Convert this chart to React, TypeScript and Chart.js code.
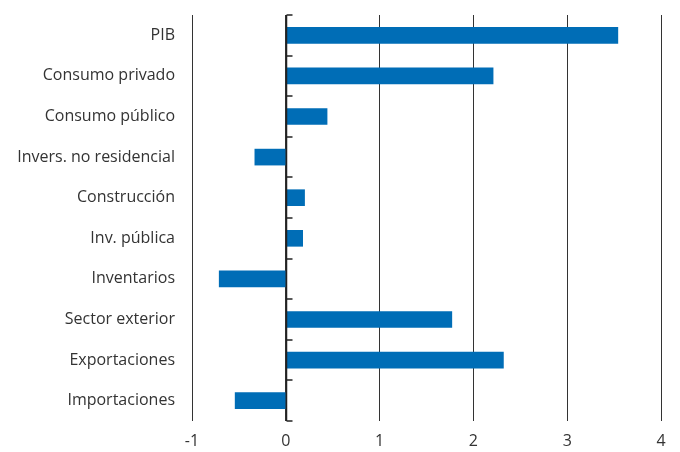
import React, { useEffect, useRef } from "react";
import { Chart, registerables } from "chart.js";

Chart.register(...registerables);

const categories = [
  "PIB",
  "Consumo privado",
  "Consumo público",
  "Invers. no residencial",
  "Construcción",
  "Inv. pública",
  "Inventarios",
  "Sector exterior",
  "Exportaciones",
  "Importaciones",
];
const values = [3.54, 2.21, 0.44, -0.33, 0.2, 0.18, -0.71, 1.77, 2.32, -0.54];
const xMin = -1;
const xMax = 4;

const zeroTicks = {
  id: "zeroTicks",
  afterDatasetsDraw(chart: any) {
    const { ctx, chartArea, scales } = chart;
    const x0 = Math.round(scales.x.getPixelForValue(0)) + 0.5;
    const n = categories.length;
    ctx.save();
    ctx.strokeStyle = "#222";
    ctx.lineWidth = 1.5;
    ctx.beginPath();
    ctx.moveTo(x0, chartArea.top);
    ctx.lineTo(x0, chartArea.bottom);
    ctx.stroke();
    for (let i = 0; i <= n; i++) {
      const y = Math.round(chartArea.top + (i * (chartArea.bottom - chartArea.top)) / n);
      ctx.beginPath();
      ctx.moveTo(x0, y);
      ctx.lineTo(x0 + 6, y);
      ctx.stroke();
    }
    ctx.restore();
  },
};

export default function App() {
  const ref = useRef<HTMLCanvasElement>(null);
  useEffect(() => {
    document.body.style.margin = "0";
    const chart = new Chart(ref.current!, {
      type: "bar",
      data: {
        labels: categories,
        datasets: [
          {
            data: values,
            backgroundColor: "#006db6",
            barThickness: 16,
          },
        ],
      },
      options: {
        indexAxis: "y",
        animation: false,
        responsive: false,
        maintainAspectRatio: false,
        layout: { padding: { top: 15, right: 19, left: 0, bottom: 0 } },
        plugins: { legend: { display: false }, tooltip: { enabled: false } },
        scales: {
          x: {
            min: xMin,
            max: xMax,
            ticks: {
              stepSize: 1,
              padding: 11,
              color: "#333",
              font: { family: "Open Sans", size: 16 },
            },
            grid: {
              color: "#333",
              lineWidth: 1,
              drawTicks: false,
            },
            border: { display: false },
            afterFit: (s: any) => {
              s.height = 31;
              s.paddingLeft = 0;
              s.paddingRight = 0;
            },
          },
          y: {
            ticks: {
              padding: 17,
              color: "#333",
              font: { family: "Open Sans", size: 16 },
            },
            grid: { display: false, drawTicks: false },
            border: { display: false },
            afterFit: (s: any) => {
              s.width = 192;
              s.paddingTop = 0;
              s.paddingBottom = 0;
            },
          },
        },
      },
      plugins: [zeroTicks],
    });
    return () => chart.destroy();
  }, []);
  return (
    <div style={{ width: 680, height: 452 }}>
      <canvas ref={ref} width={680} height={452} />
    </div>
  );
}
